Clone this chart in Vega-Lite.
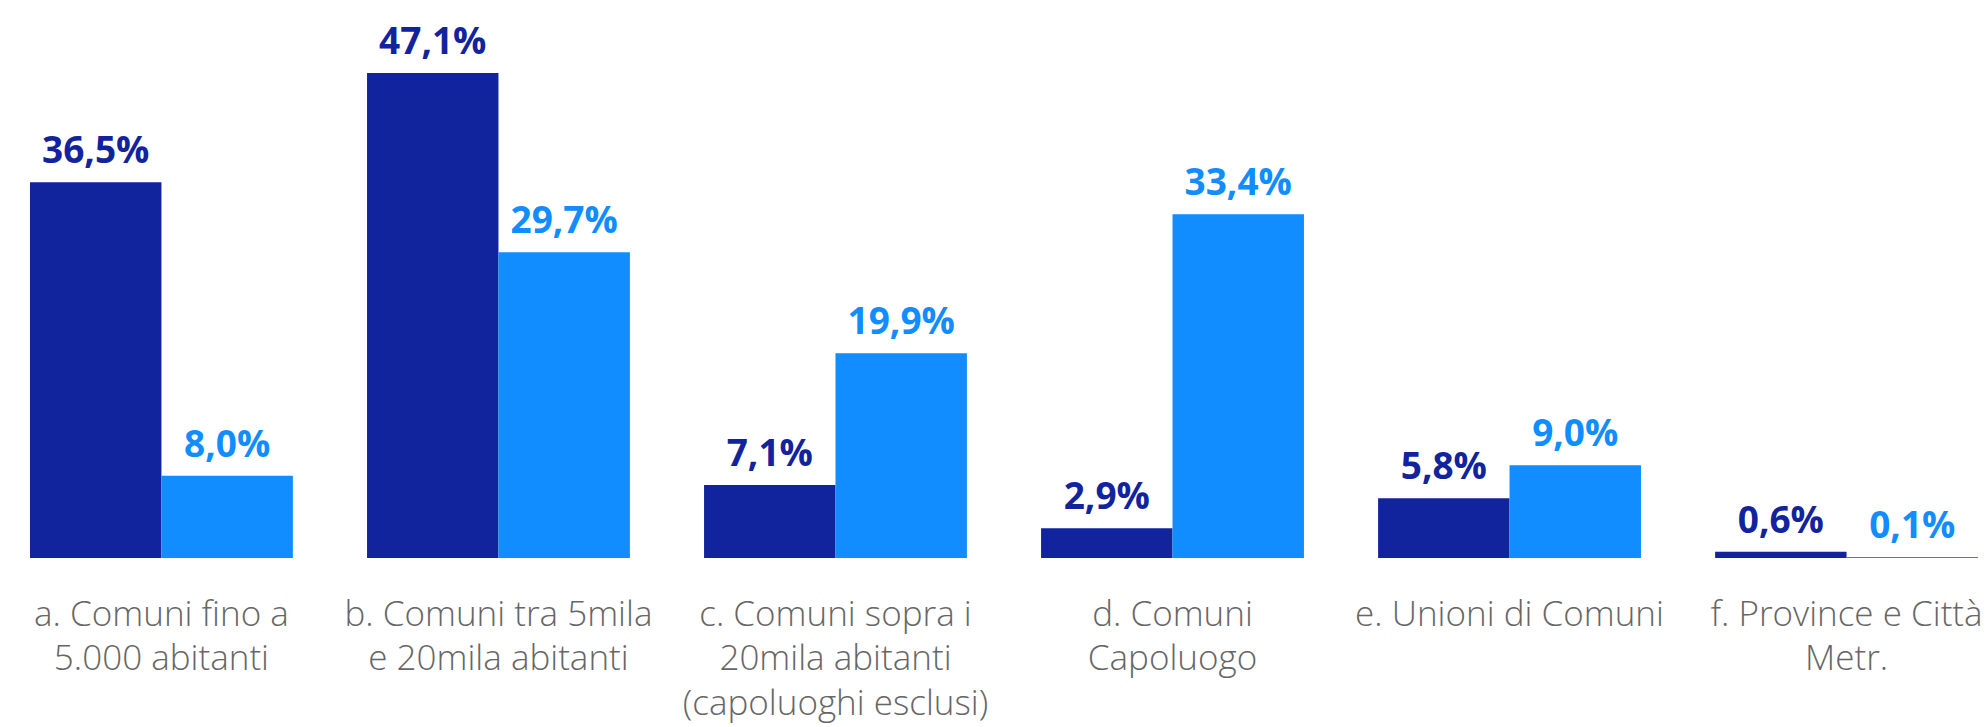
{
  "$schema": "https://vega.github.io/schema/vega-lite/v6.json",
  "width": 1948,
  "height": 558,
  "autosize": {"type": "none"},
  "padding": {"left": 30, "right": 10, "top": 0, "bottom": 169},
  "background": "white",
  "config": {
    "view": {"stroke": null},
    "locale": {"number": {"decimal": ",", "thousands": ".", "grouping": [3], "currency": ["€", ""]}}
  },
  "data": {
    "values": [
      {"cat": "a. Comuni fino a|5.000 abitanti", "serie": "s1", "v": 0.365},
      {"cat": "a. Comuni fino a|5.000 abitanti", "serie": "s2", "v": 0.080},
      {"cat": "b. Comuni tra 5mila|e 20mila abitanti", "serie": "s1", "v": 0.471},
      {"cat": "b. Comuni tra 5mila|e 20mila abitanti", "serie": "s2", "v": 0.297},
      {"cat": "c. Comuni sopra i|20mila abitanti|(capoluoghi esclusi)", "serie": "s1", "v": 0.071},
      {"cat": "c. Comuni sopra i|20mila abitanti|(capoluoghi esclusi)", "serie": "s2", "v": 0.199},
      {"cat": "d. Comuni|Capoluogo", "serie": "s1", "v": 0.029},
      {"cat": "d. Comuni|Capoluogo", "serie": "s2", "v": 0.334},
      {"cat": "e. Unioni di Comuni", "serie": "s1", "v": 0.058},
      {"cat": "e. Unioni di Comuni", "serie": "s2", "v": 0.090},
      {"cat": "f. Province e Città|Metr.", "serie": "s1", "v": 0.006},
      {"cat": "f. Province e Città|Metr.", "serie": "s2", "v": 0.001}
    ]
  },
  "encoding": {
    "x": {
      "field": "cat", "type": "nominal", "sort": null,
      "scale": {"paddingInner": 0.22, "paddingOuter": 0},
      "axis": {
        "title": null, "domain": false, "ticks": false, "labelAngle": 0,
        "labelExpr": "split(datum.label, '|')",
        "labelFont": "Open Sans", "labelFontSize": 35, "labelFontWeight": 300,
        "labelColor": "#666666", "labelPadding": 39, "labelLineHeight": 44.5,
        "labelBaseline": "top", "labelLimit": 0, "labelOverlap": false
      }
    },
    "xOffset": {"field": "serie", "type": "nominal", "sort": ["s1", "s2"]},
    "y": {
      "field": "v", "type": "quantitative",
      "scale": {"domain": [0, 0.542], "nice": false, "zero": true},
      "axis": null
    },
    "color": {
      "field": "serie", "type": "nominal",
      "scale": {"domain": ["s1", "s2"], "range": ["#12239E", "#118DFF"]},
      "legend": null
    }
  },
  "layer": [
    {"mark": {"type": "bar"}},
    {
      "mark": {"type": "text", "baseline": "alphabetic", "dy": -19, "font": "Open Sans", "fontSize": 37, "fontWeight": "bold"},
      "encoding": {"text": {"field": "v", "type": "quantitative", "format": ".1%"}}
    }
  ]
}
